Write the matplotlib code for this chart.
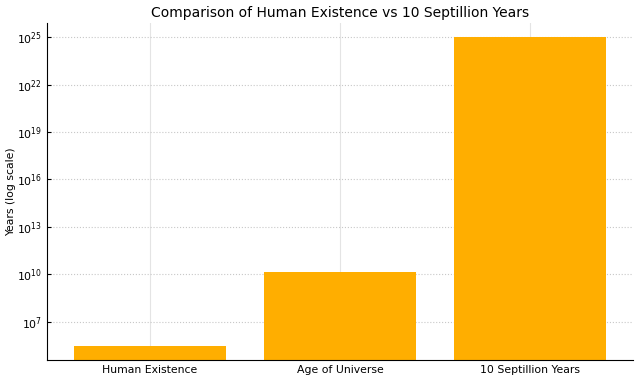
import matplotlib
matplotlib.use("Agg")
import matplotlib.pyplot as plt

categories = ["Human Existence", "Age of Universe", "10 Septillion Years"]
years = [3e5, 1.38e10, 1e25]

fig, ax = plt.subplots(figsize=(6.4, 3.81), dpi=100)
fig.subplots_adjust(left=0.0734, right=0.989, bottom=0.055, top=0.94)

ax.bar(categories, years, color="#ffae00", width=0.8, zorder=2)
ax.set_yscale("log")
ax.set_ylim(10**4.57, 10**25.9)
ax.set_yticks([1e7, 1e10, 1e13, 1e16, 1e19, 1e22, 1e25])
ax.minorticks_off()

ax.set_title("Comparison of Human Existence vs 10 Septillion Years", fontsize=10, pad=4)
ax.set_ylabel("Years (log scale)", fontsize=7.8)
ax.yaxis.set_label_coords(-0.053, 0.5)
ax.tick_params(direction="in", labelsize=7.8, length=3)
ax.grid(axis="y", linestyle=":", color="#c8c8c8", lw=0.8, zorder=0)
ax.grid(axis="x", linestyle="-", color="#e4e4e4", lw=0.8, zorder=0)
for s in ("top", "right"):
    ax.spines[s].set_visible(False)

fig.savefig("out.png", dpi=100)
